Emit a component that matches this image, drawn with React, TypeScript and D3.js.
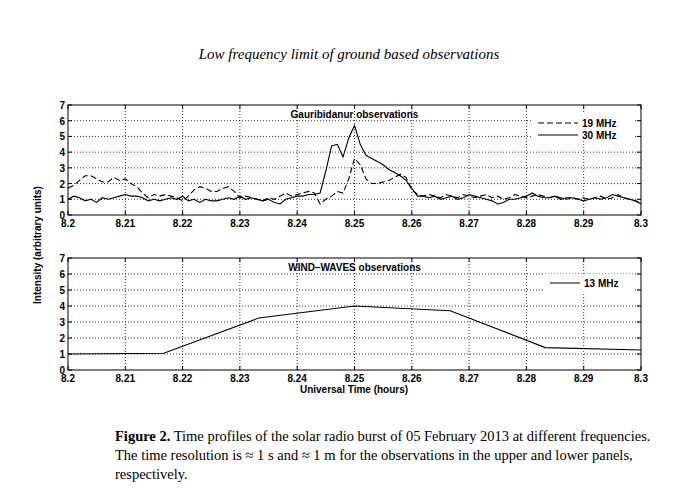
import * as d3 from "d3";

const T0 = 8.2;
const DT = 0.001;
const mhz30 = [
  1.0, 1.2, 1.1, 0.9, 1.0, 0.8, 1.1, 1.0, 1.1, 1.2,
  1.3, 1.2, 1.2, 1.1, 0.9, 1.0, 0.9, 1.0, 1.1, 1.0,
  1.2, 0.9, 1.0, 0.8, 1.0, 0.9, 0.9, 1.0, 1.1, 1.0,
  1.2, 1.0, 1.1, 1.0, 0.9, 1.0, 0.8, 0.7, 1.0, 1.1,
  1.2, 1.2, 1.3, 1.3, 1.4, 2.8, 4.4, 4.5, 3.7, 4.9,
  5.7, 4.5, 3.8, 3.6, 3.4, 3.2, 2.9, 2.7, 2.5, 2.2,
  1.7, 1.2, 1.2, 1.1, 1.2, 1.0, 1.1, 1.2, 1.0, 1.1,
  1.3, 1.2, 1.1, 1.0, 0.9, 0.7, 0.8, 1.0, 1.0, 1.1,
  1.2, 1.4, 1.2, 1.1, 1.1, 1.2, 1.0, 1.1, 1.1, 1.0,
  0.9, 1.0, 1.1, 1.0, 1.1, 1.3, 1.2, 1.1, 1.0, 0.9, 0.7,
];
const mhz19 = [
  1.7, 1.9, 2.2, 2.5, 2.5, 2.3, 2.1, 2.1, 2.4, 2.2,
  2.3, 2.0, 1.8, 1.4, 1.1, 1.3, 1.2, 1.3, 1.2, 1.1,
  0.9, 1.2, 1.6, 1.8, 1.7, 1.5, 1.5, 1.7, 1.8, 1.5,
  1.1, 1.2, 1.1, 1.0, 0.9, 1.1, 1.0, 1.2, 1.4, 1.2,
  1.3, 1.4, 1.5, 1.4, 0.7, 1.0, 1.2, 1.5, 1.4, 2.3,
  3.6, 3.2, 2.3, 2.0, 2.0, 2.1, 2.2, 2.4, 2.6, 2.4,
  1.6, 1.3, 1.2, 1.3, 1.2, 1.1, 1.3, 1.2, 1.1, 1.3,
  1.2, 1.1, 1.2, 1.3, 1.1, 1.2, 1.0, 1.1, 1.3, 1.2,
  1.1, 1.2, 1.3, 1.2, 1.1, 1.2, 1.1, 1.0, 1.1, 1.0,
  1.1, 1.0, 1.1, 1.2, 1.0, 1.1, 1.3, 1.1, 1.0, 0.9, 0.8,
];
const windT = [8.2, 8.2167, 8.2333, 8.25, 8.2667, 8.2833, 8.3];
const wind13 = [1.0, 1.05, 3.25, 4.0, 3.7, 1.4, 1.25];
const xTicks = [8.2, 8.21, 8.22, 8.23, 8.24, 8.25, 8.26, 8.27, 8.28, 8.29, 8.3];
const yTicks = [0, 1, 2, 3, 4, 5, 6, 7];

const W = 699, H = 502;
const left = 68, right = 641;
const x = d3.scaleLinear().domain([8.2, 8.3]).range([left, right]);
const F = "'Liberation Sans', Arial, sans-serif";

function Panel({ top, bottom, title, children, legend }: any) {
  const y = d3.scaleLinear().domain([0, 7]).range([bottom, top]);
  return (
    <g>
      {xTicks.slice(1, -1).map((t) => (
        <line key={"gx" + t} x1={x(t)} x2={x(t)} y1={top} y2={bottom} stroke="#000" strokeWidth={0.8} strokeDasharray="1,2" />
      ))}
      {yTicks.slice(1, -1).map((t) => (
        <line key={"gy" + t} x1={left} x2={right} y1={y(t)} y2={y(t)} stroke="#000" strokeWidth={0.8} strokeDasharray="1,2" />
      ))}
      {children(y)}
      <text x={x(8.25)} y={top + 13} textAnchor="middle" fontFamily={F} fontWeight="bold" fontSize={10}>{title}</text>
      {legend}
      <rect x={left} y={top} width={right - left} height={bottom - top} fill="none" stroke="#000" strokeWidth={1} />
      {xTicks.map((t) => (
        <g key={"tx" + t}>
          <line x1={x(t)} x2={x(t)} y1={bottom} y2={bottom - 4} stroke="#000" />
          <line x1={x(t)} x2={x(t)} y1={top} y2={top + 4} stroke="#000" />
          <text x={x(t)} y={bottom + 12} textAnchor="middle" fontFamily={F} fontWeight="bold" fontSize={10}>{d3.format(".2~f")(t)}</text>
        </g>
      ))}
      {yTicks.map((t) => (
        <g key={"ty" + t}>
          <line x1={left} x2={left + 4} y1={y(t)} y2={y(t)} stroke="#000" />
          <line x1={right} x2={right - 4} y1={y(t)} y2={y(t)} stroke="#000" />
          <text x={left - 3} y={y(t) + 4} textAnchor="end" fontFamily={F} fontWeight="bold" fontSize={10}>{t}</text>
        </g>
      ))}
    </g>
  );
}

export default function App() {
  const series = (vals: number[]) => vals.map((v, i) => [T0 + i * DT, v] as [number, number]);
  return (
    <svg width={W} height={H} style={{ position: "absolute", left: 0, top: 0, background: "#fff" }}>
      <rect width={W} height={H} fill="#fff" />
      <text x={349} y={59} textAnchor="middle" fontFamily="'Liberation Serif', serif" fontStyle="italic" fontSize={15}>
        Low frequency limit of ground based observations
      </text>
      <text transform="translate(41,245) rotate(-90)" textAnchor="middle" fontFamily={F} fontWeight="bold" fontSize={10}>
        Intensity (arbitrary units)
      </text>
      <Panel
        top={105}
        bottom={215}
        title="Gauribidanur observations"
        legend={
          <g>
            <rect x={533} y={114} width={100} height={27} fill="#fff" />
            <line x1={538} x2={578} y1={123} y2={123} stroke="#000" strokeDasharray="6,3" />
            <line x1={538} x2={578} y1={135} y2={135} stroke="#000" />
            <text x={582} y={127} fontFamily={F} fontWeight="bold" fontSize={10}>19 MHz</text>
            <text x={582} y={139} fontFamily={F} fontWeight="bold" fontSize={10}>30 MHz</text>
          </g>
        }
      >
        {(y: any) => {
          const line = d3.line<[number, number]>().x((d) => x(d[0])).y((d) => y(d[1]));
          return (
            <g>
              <path d={line(series(mhz19)) || ""} fill="none" stroke="#000" strokeWidth={1.1} strokeDasharray="6,3" />
              <path d={line(series(mhz30)) || ""} fill="none" stroke="#000" strokeWidth={1.1} />
            </g>
          );
        }}
      </Panel>
      <Panel
        top={258}
        bottom={370}
        title="WIND–WAVES observations"
        legend={
          <g>
            <rect x={545} y={274} width={88} height={18} fill="#fff" />
            <line x1={550} x2={580} y1={283} y2={283} stroke="#000" />
            <text x={584} y={287} fontFamily={F} fontWeight="bold" fontSize={10}>13 MHz</text>
          </g>
        }
      >
        {(y: any) => {
          const line = d3.line<number>().x((_, i) => x(windT[i])).y((d) => y(d));
          return <path d={line(wind13) || ""} fill="none" stroke="#000" strokeWidth={1.1} />;
        }}
      </Panel>
      <text x={354} y={393} textAnchor="middle" fontFamily={F} fontWeight="bold" fontSize={10}>Universal Time (hours)</text>
      <g fontFamily="'Liberation Serif', serif" fontSize={14.5}>
        <text x={115} y={441}><tspan fontWeight="bold">Figure 2.</tspan> Time profiles of the solar radio burst of 05 February 2013 at different frequencies.</text>
        <text x={115} y={460}>The time resolution is ≈ 1 s and ≈ 1 m for the observations in the upper and lower panels,</text>
        <text x={115} y={479}>respectively.</text>
      </g>
    </svg>
  );
}
